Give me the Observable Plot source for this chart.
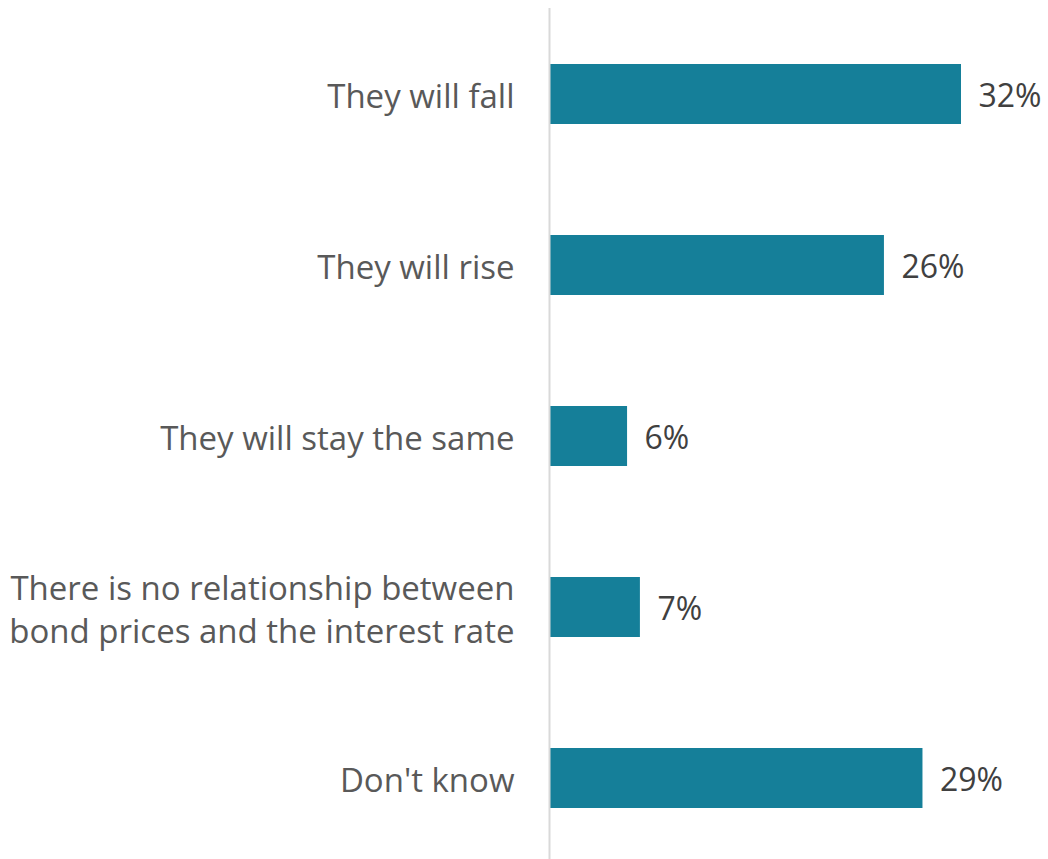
<!DOCTYPE html>
<html>
<head>
<meta charset="utf-8">
<script src="https://cdn.jsdelivr.net/npm/d3@7"></script>
<script src="https://cdn.jsdelivr.net/npm/@observablehq/plot@0.6"></script>
<style>
  html, body { margin: 0; padding: 0; background: #fff; }
  #chart svg { display: block; }
</style>
</head>
<body>
<div id="chart"></div>
<script>
// Survey answers: what happens to bond prices when interest rates rise?
const answers = [
  "They will fall",
  "They will rise",
  "They will stay the same",
  "There is no relationship between\nbond prices and the interest rate",
  "Don't know"
];
const shares = [32, 26, 6, 7, 29];

const rows = answers.map((answer, i) => ({answer, share: shares[i]}));

const font = "'Open Sans', 'Noto Sans', sans-serif";

const chart = Plot.plot({
  width: 1048,
  height: 859,
  marginLeft: 550,
  marginRight: 87,
  marginTop: 8,
  marginBottom: 0,
  style: {fontFamily: font, background: "#fff"},
  x: {domain: [0, 32], axis: null},
  y: {domain: answers, axis: null, range: [63, 808], paddingInner: 0.65, paddingOuter: 0},
  marks: [
    Plot.barX(rows, {x: "share", y: "answer", fill: "#157f99"}),
    // baseline at zero running the full height of the plot
    Plot.ruleX([0], {stroke: "#d9d9d9", strokeWidth: 2, dx: -1}),
    Plot.text(rows, {
      x: 0, y: "answer", text: "answer",
      textAnchor: "end", dx: -36, fontSize: 33, lineHeight: 1.3,
      fill: "#595959"
    }),
    Plot.text(rows, {
      x: "share", y: "answer", text: d => d.share + "%",
      textAnchor: "start", dx: 17, dy: 2, fontSize: 32, fill: "#404040"
    })
  ]
});

document.getElementById("chart").append(chart);
</script>
</body>
</html>
